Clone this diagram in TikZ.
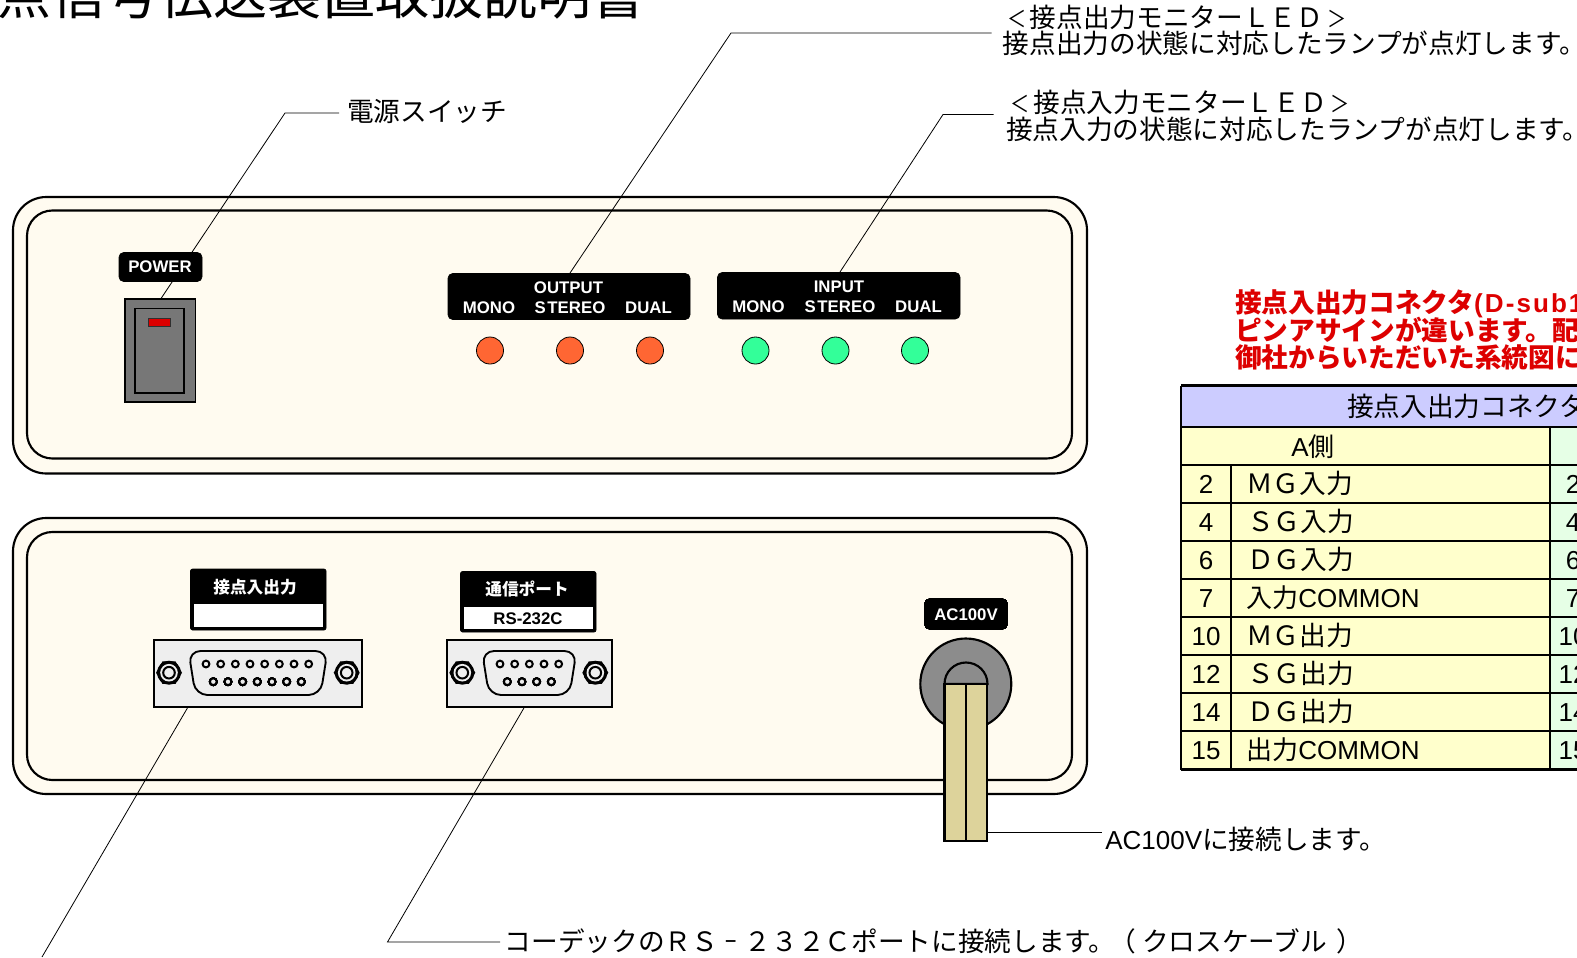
\documentclass[tikz,border=0pt]{standalone}
\usepackage{fontspec}
\setmainfont{Liberation Sans}
\newfontfamily\jpf{Noto Sans CJK JP}
\newcommand{\jp}{\jpf\fontsize{20}{22}\selectfont}
\newfontfamily\lab{Liberation Sans}
\newfontfamily\labsp[LetterSpace=8]{Liberation Sans}
\newcommand{\ang}[1]{\makebox[1em]{\scalebox{.72}[.85]{#1}}}
\newcommand{\hyp}{\makebox[1em]{\scalebox{.5}[1]{－}}}
\newcommand{\opar}{\kern-.22em（\kern.22em}
\newcommand{\cpar}{\kern.35em）\kern-.35em}
\definecolor{panelc}{HTML}{FFFBF0}
\definecolor{plate}{HTML}{EEEEEE}
\definecolor{swgray}{HTML}{777777}
\definecolor{grommet}{HTML}{8C8C8C}
\definecolor{cable}{HTML}{DDD39B}
\definecolor{redt}{HTML}{DD0000}
\definecolor{ledo}{HTML}{FF6633}
\definecolor{ledg}{HTML}{33FF99}
\definecolor{thead}{HTML}{CCCCFF}
\definecolor{tyel}{HTML}{FFFFCC}
\definecolor{tgrn}{HTML}{E6FFE6}
\tikzset{
  txt/.style={inner sep=0pt,anchor=west,text height=17.16pt,text depth=2.34pt,font=\fontsize{19.5}{22}\selectfont},
  tabt/.style={txt},
  ctxt/.style={tabt,anchor=center},
  redline/.style={txt,text=redt,font=\bfseries\fontsize{19.5}{22}\selectfont},
  panelline/.style={draw=black,line width=1.6pt},
  leader/.style={draw=black,line width=0.6pt},
  blacklabel/.style={fill=black,draw=black,line width=0.5pt,rounded corners=3.5pt},
  wlab/.style={inner sep=0pt,text=white,font=\lab\bfseries\fontsize{12.6}{14}\selectfont},
  wjp/.style={inner sep=0pt,text=white,font=\jpf\bfseries\fontsize{12.5}{14}\selectfont},
  led/.style={draw=black,line width=0.6pt},
  shell/.style={draw=black,line width=1.4pt,rounded corners=9pt},
  tline/.style={draw=black,line width=1.6pt},
  cableline/.style={draw=black,line width=1.6pt},
}
\newcommand{\screw}[2]{%
  \fill[black] (#1,#2) circle[radius=12];
  \fill[black] (#1,#2) ++(0:13) -- ++(120:13) -- ++(180:13) -- ++(240:13) -- ++(300:13) -- ++(0:13) -- cycle;
  \fill[plate] (#1,#2) circle[radius=8.8];
  \draw[black,line width=1.5pt] (#1,#2) circle[radius=5.8];
}
\newcommand{\pin}[2]{\draw[black,line width=1.5pt,fill=plate] (#1,#2) circle[radius=3.4];}
\begin{document}
\begin{tikzpicture}[x=0.75pt,y=-0.75pt]
\useasboundingbox (0,0) rectangle (1577,957);
\fill[white] (0,0) rectangle (1577,957);
% title
\node[inner sep=0pt,anchor=east,text height=35.6pt,text depth=4.9pt,font=\jpf\fontsize{40.5}{44}\selectfont] (title) at (646,-6) {点信号伝送装置取扱説明書};
% panels
\draw[panelline,fill=panelc,rounded corners=25pt] (13,197) rectangle (1087,473.5);
\draw[panelline,fill=panelc,rounded corners=19pt] (27,210.5) rectangle (1072,458.5);
\draw[panelline,fill=panelc,rounded corners=25pt] (13,518) rectangle (1087,794);
\draw[panelline,fill=panelc,rounded corners=19pt] (27,532) rectangle (1072,780);
% named leader points
\coordinate (swtop) at (160.7,299);
\coordinate (pwrbend) at (285,113);
\coordinate (pwrend) at (339,113);
\coordinate (outtop) at (570,273);
\coordinate (outbend) at (731,33);
\coordinate (outend) at (991.5,33);
\coordinate (intop) at (840,272);
\coordinate (inbend) at (943,114.5);
\coordinate (inend) at (993.5,114.5);
\coordinate (d15bot) at (188,707);
\coordinate (d15end) at (42,957);
\coordinate (d9bot) at (524.5,707);
\coordinate (d9bend) at (387.5,942);
\coordinate (d9end) at (500,942);
\coordinate (acfrom) at (987,832);
\coordinate (acend) at (1102,832);
\path[leader] (swtop) -- (pwrbend) -- (pwrend);
\path[leader] (outtop) -- (outbend) -- (outend);
\path[leader] (intop) -- (inbend) -- (inend);
\path[leader] (d15bot) -- (d15end);
\path[leader] (d9bot) -- (d9bend) -- (d9end);
\path[leader] (acfrom) -- (acend);
% power
\draw[blacklabel] (119,252.5) rectangle (202,281.5);
\node[wlab] (pwr) at (160,266.5) {POWER};
\draw[black,line width=0.9pt,fill=swgray] (125,299) rectangle (195.5,402);
\draw[black,line width=1.1pt,fill=swgray] (135,308.5) rectangle (184,393);
\draw[black!60!swgray,line width=0.6pt,fill=redt] (148,318) rectangle (170,326);
% output/input
\draw[blacklabel] (448,273.5) rectangle (690,319.5);
\node[wlab] (ot) at (568.5,287.5) {OUTPUT};
\node[wlab] (om) at (489,307.5) {MONO};
\node[wlab] (os) at (570,307.5) {S\kern1.2pt TEREO};
\node[wlab] (od) at (648.5,307.5) {DUAL};
\draw[blacklabel] (717.5,272.5) rectangle (960,319);
\node[wlab] (it) at (839,286.5) {INPUT};
\node[wlab] (im) at (758.5,306.5) {MONO};
\node[wlab] (is) at (840,306.5) {S\kern1.2pt TEREO};
\node[wlab] (id) at (918.5,306.5) {DUAL};
\foreach \x in {490,570,650} \draw[led,fill=ledo] (\x,350.5) circle[radius=13.5];
\foreach \x in {755.5,835.5,915} \draw[led,fill=ledg] (\x,350.5) circle[radius=13.5];
% D-sub labels
\draw[blacklabel,rounded corners=1.5pt] (190.5,569) rectangle (326,630);
\fill[white] (193.8,603.8) rectangle (322.7,626.7);
\node[wjp] (l15) at (255,587.5) {接点入出力};
\draw[blacklabel,rounded corners=1.5pt] (460.5,571.5) rectangle (596,632);
\fill[white] (464,606.5) rectangle (593,629.3);
\node[wjp] (l9) at (527,589) {通信ポート};
\node[wlab,text=black] (rs) at (528,619) {RS-232C};
% D-sub 15
\draw[black,line width=1.5pt,fill=plate] (154,640) rectangle (362,707);
\draw[shell] (188.5,651) -- (327.5,651) -- (320.5,695) -- (195.5,695) -- cycle;
\screw{169}{672.7}\screw{346.7}{672.7}
\foreach \i in {0,...,7} \pin{206+\i*14.67}{664}
\foreach \i in {0,...,6} \pin{213.3+\i*14.67}{681.7}
% D-sub 9
\draw[black,line width=1.5pt,fill=plate] (447,640) rectangle (611.5,707);
\draw[shell] (482,651) -- (576.5,651) -- (569.5,695) -- (489,695) -- cycle;
\screw{462.3}{672.7}\screw{595.3}{672.7}
\foreach \i in {0,...,4} \pin{500+\i*14.67}{664}
\foreach \i in {0,...,3} \pin{507.3+\i*14.67}{681.7}
% AC
\draw[blacklabel] (924.8,599) rectangle (1007.2,629);
\node[wlab] (acl) at (966,614.5) {AC100V};
\draw[cableline,fill=grommet] (965.8,684) circle[radius=45.5];
\draw[cableline,fill=grommet] (944.5,684) arc[start angle=180,end angle=360,radius=21.5] -- cycle;
\draw[cableline,fill=cable] (944.5,684) rectangle (987,840.7);
\draw[cableline] (965.6,684) -- (965.6,840.7);
% callouts
\node[txt] (t1) at (1003,18) {\jp \ang{＜}接点出力モニターＬＥＤ\ang{＞}};
\node[txt] (t2) at (1002.5,44) {\jp 接点出力の状態に対応したランプが点灯します。};
\node[txt] (t3) at (1006.5,103) {\jp \ang{＜}接点入力モニターＬＥＤ\ang{＞}};
\node[txt] (t4) at (1006,130) {\jp 接点入力の状態に対応したランプが点灯します。};
\node[txt] (t5) at (347,112) {\jp 電源スイッチ};
\node[txt] (t6) at (1105,840) {AC100V\jp に接続します。};
\node[txt] (t7) at (504.5,942) {\jp コーデックのＲＳ\hyp ２３２Ｃポートに接続します。\opar クロスケーブル\cpar};
% red
\node[redline] (r1) at (1235,303) {{\jp 接点入出力コネクタ}{\labsp (D-sub15}};
\node[redline] (r2) at (1235,331) {\jp ピンアサインが違います。配線};
\node[redline] (r3) at (1235,358) {\jp 御社からいただいた系統図に基};
% table
\fill[thead] (1181,385.5) rectangle (1577,427);
\fill[tyel] (1181,427) rectangle (1550,769.5);
\fill[tgrn] (1550,427) rectangle (1577,769.5);
\foreach \y in {385.5,427,465,503,541,579,617,655,693,731,769.5} \path[tline] (1181,\y) -- (1577,\y);
\path[tline] (1181,385.5) -- (1181,769.5);
\path[tline] (1231,465) -- (1231,769.5);
\path[tline] (1550,427) -- (1550,769.5);
\node[txt] (th) at (1347,407) {\jp 接点入出力コネクタ};
\node[ctxt] (ta) at (1313,447) {A\jpf 側};
\foreach \y/\n/\lbl/\x in {484/2/{\jp ＭＧ入力}/1246,522/4/{\jp ＳＧ入力}/1247,560/6/{\jp ＤＧ入力}/1247,598/7/{{\jpf 入力}COMMON}/1246,636/10/{\jp ＭＧ出力}/1246,674/12/{\jp ＳＧ出力}/1247,712/14/{\jp ＤＧ出力}/1247,750/15/{{\jpf 出力}COMMON}/1246}{
  \node[ctxt] at (1206,\y) {\n};
  \node[tabt] at (\x,\y) {\lbl};
  \node[ctxt] at (1573,\y) {\n};
}
\end{tikzpicture}
\end{document}
